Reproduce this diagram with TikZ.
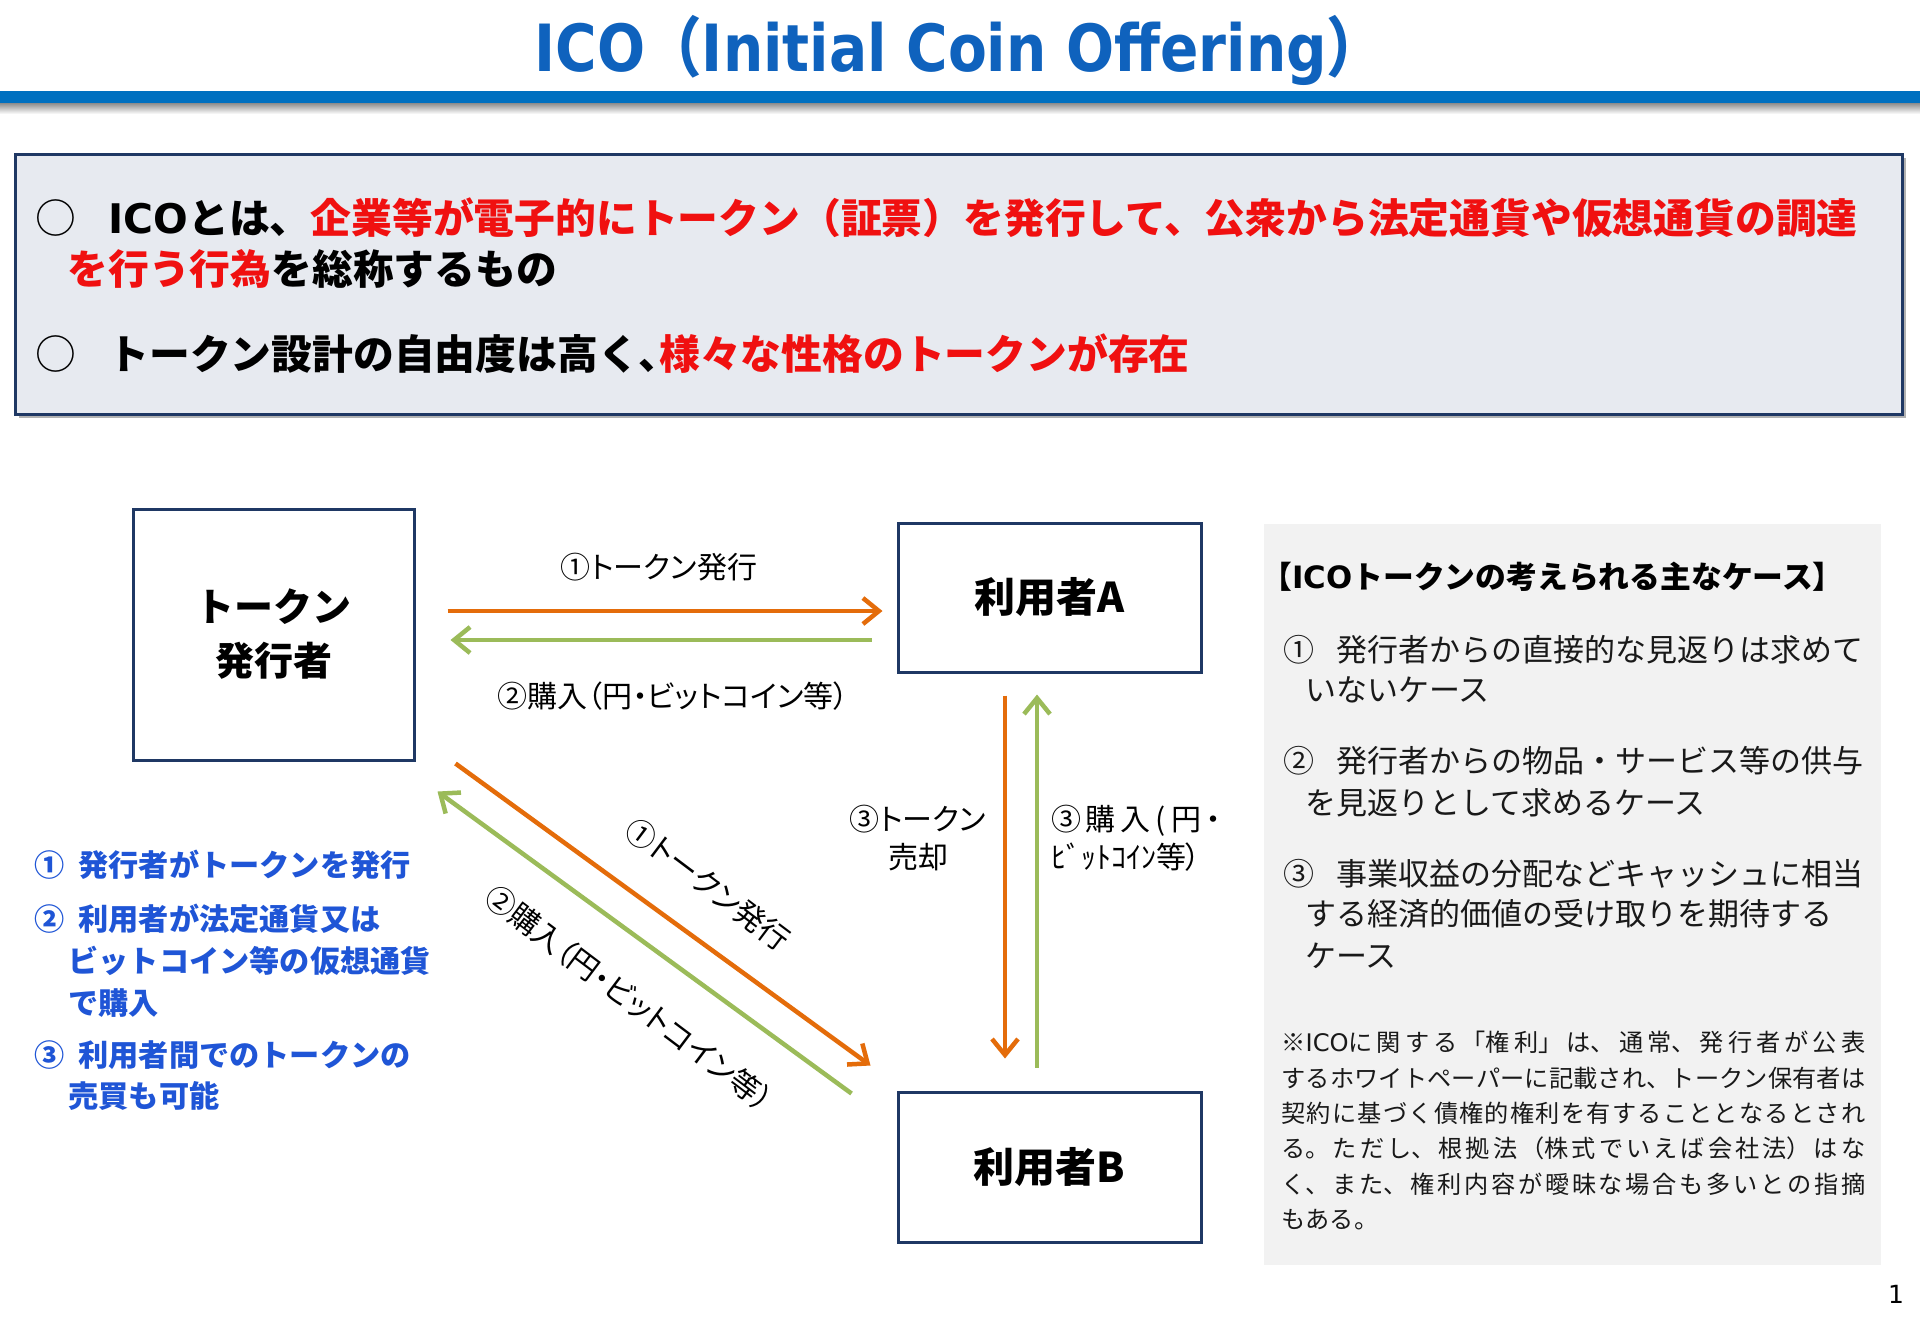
\documentclass[tikz,border=0pt]{standalone}
\usepackage{fontspec}
\setmainfont{Noto Sans CJK JP}
\newfontfamily\jpp[RawFeature=+palt]{Noto Sans CJK JP}
\newfontfamily\dv{DejaVu Sans}
\usetikzlibrary{arrows.meta,calc}
\XeTeXlinebreaklocale "ja"
\XeTeXlinebreakskip=0pt plus 1pt
\definecolor{titleblue}{HTML}{0F62BD}
\definecolor{barblue}{HTML}{0070C0}
\definecolor{navy}{HTML}{1F3864}
\definecolor{boxfill}{HTML}{E7EAF0}
\definecolor{ired}{HTML}{F01010}
\definecolor{orng}{HTML}{E46C0A}
\definecolor{grn}{HTML}{9BBB59}
\definecolor{bblue}{HTML}{1F55D6}
\definecolor{graybox}{HTML}{F2F2F2}
\tikzset{
  ubox/.style={draw=navy, line width=1.5pt, fill=white, inner sep=0pt, align=center,
    font=\fontsize{20.5pt}{27.5pt}\selectfont\bfseries},
  oarr/.style={draw=orng, line width=2.25pt, line join=round, -{Straight Barb[length=8pt,width=13pt]}},
  garr/.style={draw=grn, line width=2.25pt, line join=round, -{Straight Barb[length=8pt,width=13pt]}},
  lab/.style={inner sep=0pt, font=\jpp\fontsize{15pt}{19pt}\selectfont},
  toptxt/.style={anchor=base west, inner sep=0pt, font=\fontsize{20.4pt}{24pt}\selectfont},
  btxt/.style={anchor=base west, inner sep=0pt, text=bblue, font=\fontsize{15.1pt}{19pt}\selectfont\bfseries},
  itxt/.style={anchor=base west, inner sep=0pt, text=black!90, font=\fontsize{15.5pt}{19pt}\selectfont},
}
\begin{document}
\begin{tikzpicture}[x=0.5pt,y=-0.5pt]
\path[use as bounding box, fill=white] (0,0) rectangle (1920,1329);
% title
\node[inner sep=0pt, text=titleblue, font=\fontsize{28.3pt}{30pt}\selectfont\dv\bfseries] (title) at (959,50)
  {\scalebox{1}[1.15]{ICO{\rmfamily\bfseries （}Initial Coin Offering{\rmfamily\bfseries ）}}};
\fill[barblue] (0,91) rectangle (1920,103);
\shade[top color=black!45, bottom color=white] (0,103) rectangle (1920,114);
% top box
\fill[black!30] (19,158) rectangle (1906,418);
\node[draw=navy, line width=1.5pt, fill=boxfill, minimum width=943.5pt, minimum height=130pt, inner sep=0pt] (topbox) at (958.5,284) {};
\node[toptxt] (c1) at (35,233) {○};
\node[toptxt] (t1) at (108,233) {\bfseries{\dv ICO}とは、\textcolor{ired}{企業等が電子的にトークン（証票）を発行して、公衆から法定通貨や仮想通貨の調達}};
\node[toptxt] (t2) at (67,284) {\bfseries\textcolor{ired}{を行う行為}を総称するもの};
\node[toptxt] (c2) at (35,369) {○};
\node[toptxt] (t3) at (108,369) {\bfseries トークン設計の自由度は高く{\jpp 、}\textcolor{ired}{様々な性格のトークンが存在}};
% diagram boxes
\node[ubox, minimum width=140.5pt, minimum height=125.5pt, font=\fontsize{19.5pt}{27pt}\selectfont\bfseries] (iss) at (273.5,634.5) {トークン\\発行者};
\node[ubox, minimum width=151.5pt, minimum height=74.5pt] (ua) at (1049.5,597.5) {利用者A};
\node[ubox, minimum width=151.5pt, minimum height=75pt] (ub) at (1049.5,1167) {利用者B};
% arrow end points
\coordinate (ohs) at ($(iss.east)+(32,-23.5)$);
\coordinate (ohe) at ($(ua.west)+(-14,13.5)$);
\coordinate (ghs) at ($(ua.west)+(-25,42.5)$);
\coordinate (ghe) at ($(iss.east)+(35,5.5)$);
\coordinate (ovs) at ($(ua.south)+(-44.5,22)$);
\coordinate (ove) at ($(ub.north)+(-44.5,-32)$);
\coordinate (gvs) at ($(ub.north)+(-12.5,-23)$);
\coordinate (gve) at ($(ua.south)+(-12.5,21)$);
\coordinate (ods) at ($(iss.south east)+(40,2)$);
\coordinate (ode) at ($(ub.north west)+(-26,-25)$);
\coordinate (gds) at ($(ub.north west)+(-45,3)$);
\coordinate (gde) at ($(iss.south east)+(22,30)$);
\draw[oarr] (ohs) -- (ohe);
\draw[garr] (ghs) -- (ghe);
\draw[oarr] (ovs) -- (ove);
\draw[garr] (gvs) -- (gve);
\draw[oarr] (ods) -- (ode);
\draw[garr] (gds) -- (gde);
% arrow labels
\node[lab] (l1h) at (659,567) {①トークン発行};
\node[lab] (l2h) at (673,696) {②購入（円・ビットコイン等）};
\node[lab, align=center] (l3s) at (918,838) {③トークン\\売却};
\node[lab, align=left] (l3b) at (1136,838) {\makebox[85pt][s]{③\hfill 購\hfill 入\hfill (\hfill 円\hfill ・}\\\makebox[85pt][l]{ﾋﾞｯﾄｺｲﾝ等）}};
\node[lab, rotate=-37] (d1) at (708,884) {①トークン発行};
\node[lab, rotate=-37] (d2) at (629,998) {②購入（円・ビットコイン等）};
% blue notes
\node[btxt] (b1) at (34,876) {①\hspace{7pt}発行者がトークンを発行};
\node[btxt] (b2) at (34,930) {②\hspace{7pt}利用者が法定通貨又は};
\node[btxt] (b3) at (68,972) {ビットコイン等の仮想通貨};
\node[btxt] (b4) at (68,1014) {で購入};
\node[btxt] (b5) at (34,1066) {③\hspace{7pt}利用者間でのトークンの};
\node[btxt] (b6) at (68,1107) {売買も可能};
% right gray box
\node[fill=graybox, minimum width=308.5pt, minimum height=370.5pt, inner sep=0pt] (rbox) at (1572.5,894.5) {};
\node[anchor=base west, inner sep=0pt, font=\fontsize{15.4pt}{18pt}\selectfont\bfseries] (rh) at (1261,588) {【{\dv ICO}トークンの考えられる主なケース】};
\node[itxt] (r1) at (1283,661) {①\hspace{11pt}発行者からの直接的な見返りは求めて};
\node[itxt] (r2) at (1305,701) {いないケース};
\node[itxt] (r3) at (1283,772) {②\hspace{11pt}発行者からの物品・サービス等の供与};
\node[itxt] (r4) at (1305,814) {を見返りとして求めるケース};
\node[itxt] (r5) at (1283,885) {③\hspace{11pt}事業収益の分配などキャッシュに相当};
\node[itxt] (r6) at (1305,925) {する経済的価値の受け取りを期待する};
\node[itxt] (r7) at (1305,967) {ケース};
\node[anchor=north west, inner sep=0pt, text width=292pt, align=justify, text=black!90,
  font=\fontsize{12.1pt}{17.65pt}\selectfont] (note) at (1281,1031)
  {\noindent ※{\dv ICO}に関する「権利」は、通常、発行者が公表\linebreak
  するホワイトペーパーに記載され、トークン保有者は\linebreak
  契約に基づく債権的権利を有することとなるとされ\linebreak
  る。ただし、根拠法（株式でいえば会社法）はな\linebreak
  く、また、権利内容が曖昧な場合も多いとの指摘\linebreak
  もある。};
\node[inner sep=0pt, font=\dv\fontsize{12.5pt}{15pt}\selectfont] (pg) at (1896,1294) {1};
\end{tikzpicture}
\end{document}
